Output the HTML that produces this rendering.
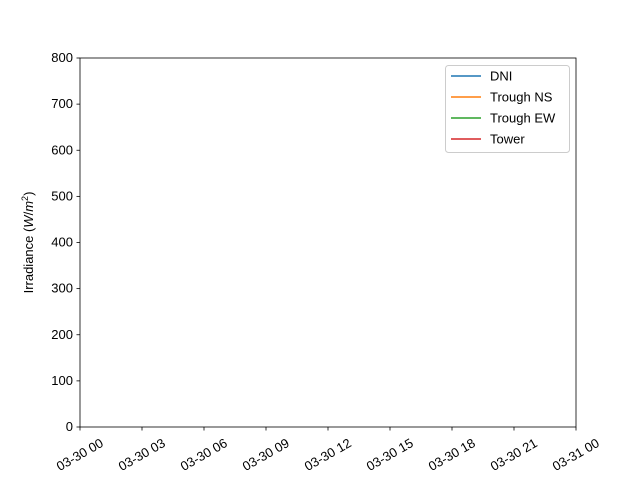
<!DOCTYPE html>
<html><head><meta charset="utf-8"><style>body{margin:0;background:#fff}svg{display:block;font-family:"Liberation Sans","DejaVu Sans",sans-serif}</style></head>
<body>
<svg id="chart" width="640" height="480">
<rect x="0" y="0" width="640" height="480" fill="#fff"/>
<g id="plot"></g>
</svg>
<script>
const yTicks = [0,100,200,300,400,500,600,700,800];
const xTickLabels = ["03-30 00","03-30 03","03-30 06","03-30 09","03-30 12","03-30 15","03-30 18","03-30 21","03-31 00"];
const xHours = [0,3,6,9,12,15,18,21,24];
const seriesNames = ["DNI","Trough NS","Trough EW","Tower"];
const seriesColors = ["#1f77b4","#ff7f0e","#2ca02c","#d62728"];
const timesHours = [];
const dniValues = [];
const troughNSValues = [];
const troughEWValues = [];
const towerValues = [];
const allSeries = [dniValues, troughNSValues, troughEWValues, towerValues];

const L=80,R=576,T=58,B=427;
const xS=h=>L+(h-0)/(24-0)*(R-L);
const yS=v=>B-(v-0)/(800-0)*(B-T);
const NS="http://www.w3.org/2000/svg";
const g=document.getElementById('plot');
function mk(t,a,p){const e=document.createElementNS(NS,t);for(const k in a)e.setAttribute(k,a[k]);(p||g).appendChild(e);return e;}

// series lines
allSeries.forEach((vals,i)=>{
  if(!vals.length) return;
  const pts=vals.map((v,j)=>xS(timesHours[j])+","+yS(v)).join(" ");
  const pl=mk('polyline',{points:pts,fill:'none',stroke:seriesColors[i],'stroke-width':1.5});
  
  
});

// axes frame
const fr=mk('rect',{x:L,y:T,width:R-L,height:B-T,fill:'none',stroke:'#000','stroke-width':0.8});



yTicks.forEach(v=>{
  const y=yS(v);
  mk('line',{x1:L-3.5,x2:L,y1:y,y2:y,stroke:'#000','stroke-width':0.8});
  const t=mk('text',{x:L-7,y:y+4,'text-anchor':'end','font-size':13});
  t.textContent=v;
  
  
});
xHours.forEach((h,i)=>{
  const x=xS(h);
  mk('line',{x1:x,x2:x,y1:B,y2:B+3.5,stroke:'#000','stroke-width':0.8});
  const t=mk('text',{x:x,y:459,'text-anchor':'middle','font-size':13,transform:`rotate(-30 ${x} 455)`});
  t.textContent=xTickLabels[i];
  
  
});
const yt=mk('text',{x:33,y:(T+B)/2,'text-anchor':'middle','font-size':13,transform:`rotate(-90 33 ${(T+B)/2})`});
yt.innerHTML='Irradiance (<tspan font-style="italic">W</tspan>/<tspan font-style="italic">m</tspan><tspan font-size="9" dy="-5">2</tspan><tspan dy="5">)</tspan>';



// legend
const lg=mk('g',{});


mk('rect',{x:445.5,y:65.5,width:124,height:87,rx:3,fill:'#fff',stroke:'#ccc','stroke-width':1},lg);
seriesNames.forEach((n,i)=>{
  const y=76+i*21;
  const e=mk('g',{},lg);
  
  
  mk('line',{x1:451,x2:481,y1:y,y2:y,stroke:seriesColors[i],'stroke-width':1.5},e);
  const t=mk('text',{x:490,y:y+4.5,'font-size':13},e);
  t.textContent=n;
});
</script>
</body></html>
